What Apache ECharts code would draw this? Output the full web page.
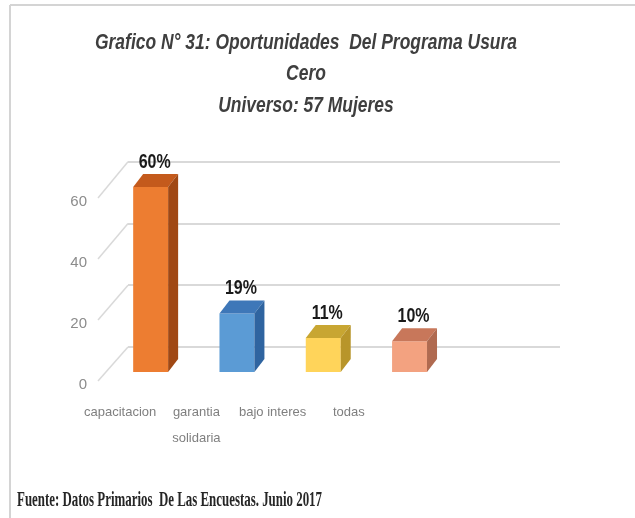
<!DOCTYPE html>
<html>
<head>
<meta charset="utf-8">
<script src="https://cdn.jsdelivr.net/npm/echarts@6/dist/echarts.min.js"></script>
<style>
  html, body { margin: 0; padding: 0; background: #fff; }
  #chart { width: 635px; height: 518px; }
</style>
</head>
<body>
<div id="chart"></div>
<script>
// data
var categories = ['capacitacion', 'garantia\nsolidaria', 'bajo interes', 'todas'];
var values = [60, 19, 11, 10];
var yTicks = [0, 20, 40, 60];

// face colours: front, top, side
var faceColors = [
  ['#ED7D31', '#C45A1C', '#A04814'],
  ['#5B9BD5', '#3E77B8', '#2F64A0'],
  ['#FFD45A', '#C8A632', '#B8952A'],
  ['#F3A280', '#C8775A', '#B06A50']
];

var titleLines = ['Grafico N° 31: Oportunidades  Del Programa Usura', 'Cero', 'Universo: 57 Mujeres'];
var footer = 'Fuente: Datos Primarios  De Las Encuestas. Junio 2017';

var depth = { dx: 10, dy: -13 };
var narrow = "'Liberation Sans Narrow', 'Liberation Sans', Arial, sans-serif";

var ctx = document.createElement('canvas').getContext('2d');
function fitScale(text, font, target) {
  ctx.font = font;
  return target / ctx.measureText(text).width;
}

var titleFont = 'italic bold 22px "Liberation Sans"';
var titleScale = fitScale(titleLines[0], titleFont, 422);
var footFont = 'bold 21px "Liberation Serif"';
var footScale = fitScale(footer, footFont, 305);

var chart = echarts.init(document.getElementById('chart'));

function renderBar(params, api) {
  var i = api.value(0);
  var top = api.coord([i, api.value(1)]);
  var base = api.coord([i, 0]);
  var w = api.size([1, 0])[0] * 0.405;
  var l = top[0] - w / 2, r = l + w, t = top[1], b = base[1];
  var dx = depth.dx, dy = depth.dy;
  var c = faceColors[i];
  return {
    type: 'group',
    children: [
      { type: 'rect', shape: { x: l, y: t, width: w, height: b - t }, style: { fill: c[0] } },
      { type: 'polygon', shape: { points: [[l, t], [l + dx, t + dy], [r + dx, t + dy], [r, t]] }, style: { fill: c[1] } },
      { type: 'polygon', shape: { points: [[r, t], [r + dx, t + dy], [r + dx, b + dy], [r, b]] }, style: { fill: c[2] } },
      {
        type: 'text', x: top[0] + 4, y: t + dy - 12, scaleX: 0.8,
        style: {
          text: api.value(1) + '%', x: 0, y: 0, align: 'center', verticalAlign: 'middle',
          font: 'bold 20px "Liberation Sans", Arial', fill: '#1a1a1a'
        }
      }
    ]
  };
}

var option = {
  backgroundColor: '#fff',
  animation: false,
  grid: [
    { left: 107.5, right: 182.3, top: 187, bottom: 146 },   // bars (front plane)
    { left: 128, right: 75, top: 161.7, bottom: 171 },      // back wall
    { left: 97, right: 400, top: 202, bottom: 133 },        // y labels
    { left: 82, right: 248, top: 200, bottom: 126 }         // x labels
  ],
  xAxis: [
    { gridIndex: 0, type: 'category', data: categories, show: false },
    { gridIndex: 1, type: 'category', data: categories, show: false },
    { gridIndex: 2, type: 'category', data: categories, show: false },
    {
      gridIndex: 3, type: 'category', data: categories,
      axisLine: { show: false }, axisTick: { show: false },
      axisLabel: { margin: 7, color: '#7f7f7f', fontSize: 13, lineHeight: 26, fontFamily: narrow, interval: 0 }
    }
  ],
  yAxis: [
    { gridIndex: 0, type: 'value', min: 0, max: 60, show: false },
    {
      gridIndex: 1, type: 'value', min: 0, max: 60, interval: 20,
      axisLine: { show: false }, axisTick: { show: false }, axisLabel: { show: false },
      splitLine: { show: true, lineStyle: { color: '#d9d9d9', width: 2 } }
    },
    {
      gridIndex: 2, type: 'value', min: 0, max: 60, interval: 20,
      axisLine: { show: false }, axisTick: { show: false }, splitLine: { show: false },
      axisLabel: { margin: 10, color: '#8c8c8c', fontSize: 15, fontFamily: narrow }
    },
    { gridIndex: 3, type: 'value', show: false }
  ],
  series: [{
    type: 'custom',
    xAxisIndex: 0,
    yAxisIndex: 0,
    renderItem: renderBar,
    data: values.map(function (v, i) { return [i, v]; })
  }]
};

chart.setOption(option);

// side wall lines, frame and texts
var graphics = [
  { type: 'line', shape: { x1: 10, y1: 5, x2: 635, y2: 5 }, style: { stroke: '#d4d4d4', lineWidth: 2 } },
  { type: 'line', shape: { x1: 10, y1: 5, x2: 10, y2: 518 }, style: { stroke: '#d4d4d4', lineWidth: 2 } }
];
yTicks.forEach(function (v) {
  var yf = chart.convertToPixel({ yAxisIndex: 2 }, v) - 4;
  var yb = chart.convertToPixel({ yAxisIndex: 1 }, v);
  graphics.push({ type: 'line', shape: { x1: 98, y1: yf, x2: 128, y2: yb }, style: { stroke: '#d9d9d9', lineWidth: 1.5 } });
});
var titleY = [42.5, 74, 106];
titleLines.forEach(function (s, i) {
  graphics.push({
    type: 'text', x: 306, y: titleY[i], scaleX: titleScale,
    style: { text: s, x: 0, y: 0, align: 'center', verticalAlign: 'middle', font: titleFont, fill: '#3f3f3f' }
  });
});
graphics.push({
  type: 'text', x: 17, y: 501, scaleX: footScale,
  style: { text: footer, x: 0, y: 0, align: 'left', verticalAlign: 'middle', font: footFont, fill: '#262626' }
});
chart.setOption({ graphic: graphics });
</script>
</body>
</html>
